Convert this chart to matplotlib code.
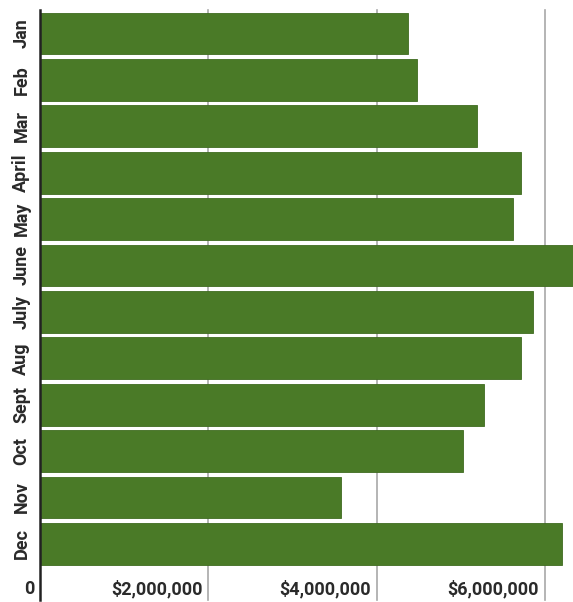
import numpy as np
import matplotlib.pyplot as plt
import matplotlib.transforms as mtransforms

# monthly values
months = ['Jan', 'Feb', 'Mar', 'April', 'May', 'June',
          'July', 'Aug', 'Sept', 'Oct', 'Nov', 'Dec']
sales = [4370000, 4480000, 5190000, 5710000, 5620000, 6600000,
         5860000, 5710000, 5270000, 5020000, 3570000, 6200000]
tick_values = [0, 2000000, 4000000, 6000000]
tick_labels = ['0', '$2,000,000', '$4,000,000', '$6,000,000']

plt.rcParams['font.family'] = ['Roboto', 'DejaVu Sans']

fig = plt.figure(figsize=(5.73, 6.02), dpi=100)
ax = fig.add_axes([0.07, 0.058, 0.93, 0.925])

y = np.arange(len(months))
ax.barh(y, sales, height=0.9, color='#4a7a27', edgecolor='#3f6b20',
        linewidth=0.6, zorder=3)
ax.set_ylim(len(months) - 0.5, -0.5)
ax.set_xlim(0, 6330000)

# vertical grid lines running down into the label area
for v in tick_values[1:]:
    ax.axvline(v, ymin=-0.06, ymax=1.0, color='#a8a8a8', linewidth=1.2,
               zorder=1, clip_on=False)
ax.axvline(0, ymin=-0.06, ymax=1.0, color='#222222', linewidth=1.8,
           zorder=4, clip_on=False)

for s in ax.spines.values():
    s.set_visible(False)

ax.set_yticks(y)
ax.set_yticklabels(months, rotation=90, va='center', fontsize=13,
                   fontweight='bold', color='#2a2a2a')
ax.tick_params(axis='y', length=0, pad=7)

ax.set_xticks(tick_values)
ax.set_xticklabels(tick_labels, fontsize=13, fontweight='bold',
                   color='#2a2a2a', ha='right')
ax.tick_params(axis='x', length=0, pad=9)
offset = mtransforms.ScaledTranslation(-6 / 100, 0, fig.dpi_scale_trans)
for lab in ax.get_xticklabels():
    lab.set_transform(lab.get_transform() + offset)

fig.savefig('out.png', dpi=100)
